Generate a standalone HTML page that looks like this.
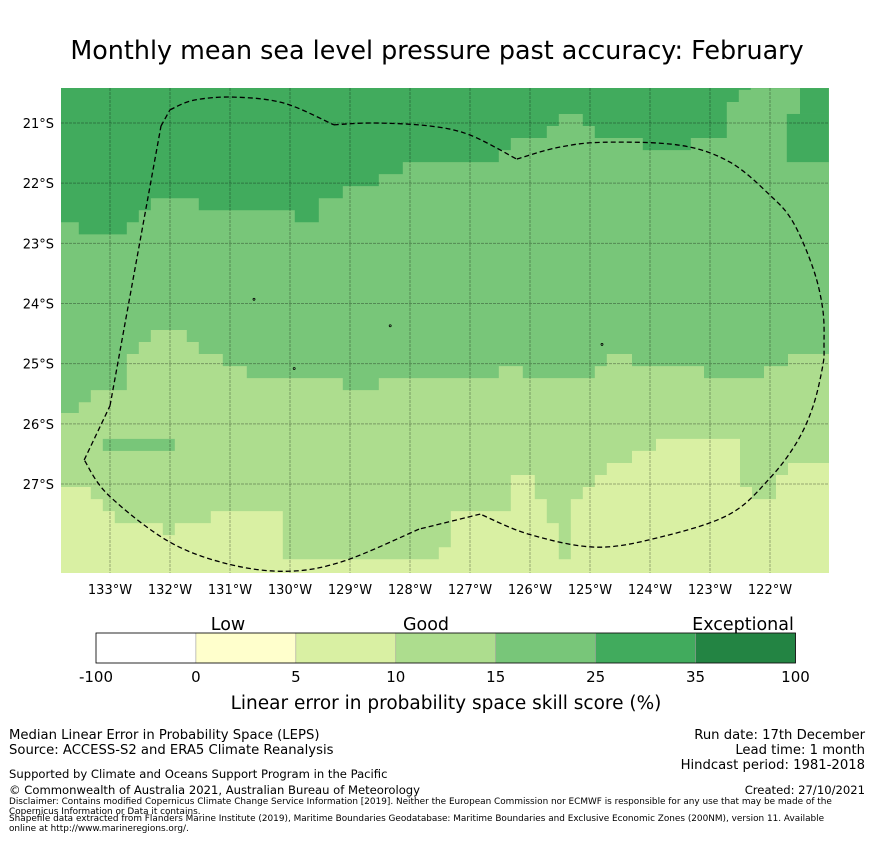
<!DOCTYPE html>
<html><head><meta charset="utf-8"><style>
body{margin:0;background:#fff;font-family:"Liberation Sans","DejaVu Sans",sans-serif}
svg text{font-family:"DejaVu Sans","Liberation Sans",sans-serif}
</style></head><body>
<svg id="s" width="873" height="839" viewBox="0 0 873 839" xmlns="http://www.w3.org/2000/svg">
<text x="437" y="59" font-size="25.4" text-anchor="middle">Monthly mean sea level pressure past accuracy: February</text>
<g id="map"></g>
<g id="cbar"></g>
<text x="228" y="630" font-size="17.5" text-anchor="middle">Low</text>
<text x="426" y="630" font-size="17.5" text-anchor="middle">Good</text>
<text x="743" y="630" font-size="17.5" text-anchor="middle">Exceptional</text>
<text x="446" y="709" font-size="18.5" text-anchor="middle">Linear error in probability space skill score (%)</text>
<g font-size="13.2">
<text x="9" y="739">Median Linear Error in Probability Space (LEPS)</text>
<text x="9" y="754">Source: ACCESS-S2 and ERA5 Climate Reanalysis</text>
<text x="9" y="778" font-size="11.6">Supported by Climate and Oceans Support Program in the Pacific</text>
<text x="9" y="794" font-size="11.6">© Commonwealth of Australia 2021, Australian Bureau of Meteorology</text>
</g>
<g font-size="8.9">
<text x="9" y="804">Disclaimer: Contains modified Copernicus Climate Change Service Information [2019]. Neither the European Commission nor ECMWF is responsible for any use that may be made of the</text>
<text x="9" y="814">Copernicus Information or Data it contains.</text>
<text x="9" y="821">Shapefile data extracted from Flanders Marine Institute (2019), Maritime Boundaries Geodatabase: Maritime Boundaries and Exclusive Economic Zones (200NM), version 11. Available</text>
<text x="9" y="831">online at http://www.marineregions.org/.</text>
</g>
<g font-size="13.2" text-anchor="end">
<text x="865" y="739">Run date: 17th December</text>
<text x="865" y="754">Lead time: 1 month</text>
<text x="865" y="769">Hindcast period: 1981-2018</text>
<text x="865" y="794" font-size="11.6">Created: 27/10/2021</text>
</g>
</svg>
<script>
// bin colours and labels
const binLabels=["-100","0","5","10","15","25","35","100"];
const binColors=["#ffffff","#ffffcc","#d9f0a3","#addd8e","#78c679","#41ab5d","#238443"];
const lonTicks=[133,132,131,130,129,128,127,126,125,124,123,122];
const latTicks=[21,22,23,24,25,26,27];
// region boundaries: [lon start (°W), southern edge lat (°S)]
const darkEdge=[[133.82,22.65],[133.52,22.85],[132.72,22.65],[132.52,22.45],[132.32,22.25],[131.52,22.45],[129.92,22.65],[129.52,22.25],[129.12,22.05],[128.52,21.85],[128.12,21.65],[126.52,21.45],[126.32,21.25],[125.72,21.05],[125.52,20.85],[125.12,21.05],[124.92,21.25],[124.12,21.45],[123.32,21.25],[122.72,20.65],[122.52,20.45],[122.32,20.42]];
const mediumEdge=[[133.82,25.82],[133.52,25.64],[133.32,25.44],[132.72,24.84],[132.52,24.64],[132.32,24.44],[131.72,24.64],[131.52,24.84],[131.12,25.04],[130.72,25.24],[129.12,25.44],[128.52,25.24],[126.52,25.04],[126.12,25.24],[124.92,25.04],[124.72,24.84],[124.3,25.04],[123.1,25.24],[122.1,25.04],[121.7,24.84]];
const lightEdge=[[133.82,27.05],[133.32,27.25],[133.12,27.45],[132.92,27.65],[132.12,27.85],[131.92,27.65],[131.32,27.45],[130.12,28.25],[127.52,28.05],[127.32,27.45],[126.32,26.85],[125.92,27.25],[125.72,27.65],[125.52,28.25],[125.32,27.25],[125.12,27.05],[124.92,26.85],[124.72,26.65],[124.3,26.45],[123.9,26.25],[122.5,27.05],[122.3,27.25],[121.9,26.85],[121.7,26.65]];
const darkPatches=[[121.72,121.02,20.85,21.65],[121.5,121.02,20.42,20.85]];
const mediumPatches=[[133.12,131.92,26.25,26.45]];
// EEZ boundary pieces (°W, °S), split at sharp corners
const eezPieces=[
 [[132.15,21.05],[132.0,20.78]],
 [[132.0,20.78],[131.6,20.62],[130.93,20.57],[130.1,20.67],[129.27,21.03]],
 [[129.27,21.03],[128.6,21.0],[127.67,21.05],[127,21.2],[126.22,21.6]],
 [[126.22,21.6],[125.55,21.41],[124.78,21.32],[123.5,21.37],[122.67,21.65],[122,22.2],[121.62,22.64],[121.28,23.42],[121.12,24.1],[121.1,24.7],[121.12,25.03],[121.28,25.7],[121.55,26.3],[122,26.9],[122.67,27.5],[123.78,27.87],[124.88,28.05],[126,27.84],[126.83,27.5]],
 [[126.83,27.5],[127.85,27.75]],
 [[127.85,27.75],[129.1,28.28],[130.03,28.45],[131.03,28.33],[132.03,27.95],[133.03,27.18],[133.43,26.6]],
 [[133.43,26.6],[133.0,25.7]],
 [[133.0,25.7],[132.15,21.05]]
];
const islands=[[130.6,23.93],[128.33,24.37],[129.93,25.08],[124.8,24.68]];

const X0=110,PXD=60,Y0=123,PYD=60.17,LEFT=61,RIGHT=829,TOP=88,BOT=573;
const xs=l=>X0+(133-l)*PXD, ys=l=>Y0+(l-21)*PYD;
const NS='http://www.w3.org/2000/svg';
function mk(t,a,p){const e=document.createElementNS(NS,t);for(const k in a)e.setAttribute(k,a[k]);p.appendChild(e);return e;}
const map=document.getElementById('map');
const base=mk('rect',{x:LEFT,y:TOP,width:RIGHT-LEFT,height:BOT-TOP,fill:binColors[2]},map);


function layer(edge,color,name){
  let d=`M${LEFT},${TOP}`;
  edge.forEach((e,i)=>{const x1=Math.max(LEFT,xs(e[0]));const x2=i+1<edge.length?xs(edge[i+1][0]):RIGHT;const y=Math.min(BOT,ys(e[1]));d+=`L${x1},${y}L${x2},${y}`;});
  d+=`L${RIGHT},${TOP}Z`;
  const p=mk('path',{d,fill:color},map);
  
  
}
function patches(arr,color,name){arr.forEach(a=>{const r=mk('rect',{x:xs(a[0]),y:ys(a[2]),width:xs(a[1])-xs(a[0]),height:ys(a[3])-ys(a[2]),fill:color},map);
  
  });}
layer(lightEdge,binColors[3],'region-10-15');
layer(mediumEdge,binColors[4],'region-15-25');
patches(mediumPatches,binColors[4],'patch-15-25');
layer(darkEdge,binColors[5],'region-25-35');
patches(darkPatches,binColors[5],'patch-25-35');
// gridlines & ticks
lonTicks.forEach(l=>{const x=xs(l);
  const g=mk('line',{x1:x,x2:x,y1:TOP,y2:BOT,stroke:'#000','stroke-opacity':0.3,'stroke-width':1,'stroke-dasharray':'3,1'},map);
  
  
  const t=mk('text',{x:x,y:BOT+21,'font-size':13,'text-anchor':'middle'},map);t.textContent=l+'°W';
  
  });
latTicks.forEach(l=>{const y=ys(l);
  const g=mk('line',{x1:LEFT,x2:RIGHT,y1:y,y2:y,stroke:'#000','stroke-opacity':0.3,'stroke-width':1,'stroke-dasharray':'3,1'},map);
  
  
  const t=mk('text',{x:54,y:y+5,'font-size':13,'text-anchor':'end'},map);t.textContent=l+'°S';
  
  });
islands.forEach(p=>{const c=mk('circle',{cx:xs(p[0]),cy:ys(p[1]),r:1,fill:'none',stroke:'#000','stroke-width':0.8},map);
  
  });
// smooth EEZ (Catmull-Rom per piece)
let d='';
eezPieces.forEach(pc=>{const P=pc.map(p=>[xs(p[0]),ys(p[1])]);
  d+=`M${P[0][0]},${P[0][1]}`;
  for(let i=0;i<P.length-1;i++){const p0=P[Math.max(0,i-1)],p1=P[i],p2=P[i+1],p3=P[Math.min(P.length-1,i+2)];
    const c1=[p1[0]+(p2[0]-p0[0])/6,p1[1]+(p2[1]-p0[1])/6],c2=[p2[0]-(p3[0]-p1[0])/6,p2[1]-(p3[1]-p1[1])/6];
    d+=`C${c1[0]},${c1[1]} ${c2[0]},${c2[1]} ${p2[0]},${p2[1]}`;}
});
const ep=mk('path',{d,fill:'none',stroke:'#000','stroke-width':1.3,'stroke-dasharray':'5,3'},map);


// colorbar
const cb=document.getElementById('cbar');const CX=96,CW=699.5/7,CY=633,CH=30;
binColors.forEach((c,i)=>{const r=mk('rect',{x:CX+i*CW,y:CY,width:CW,height:CH,fill:c,stroke:'#999','stroke-width':0.5},cb);
  
  });
const fr=mk('rect',{x:CX,y:CY,width:CW*7,height:CH,fill:'none',stroke:'#000','stroke-width':0.8},cb);


binLabels.forEach((l,i)=>{const t=mk('text',{x:CX+i*CW,y:682,'font-size':15,'text-anchor':'middle'},cb);t.textContent=l;
  
  });
</script>
</body></html>
